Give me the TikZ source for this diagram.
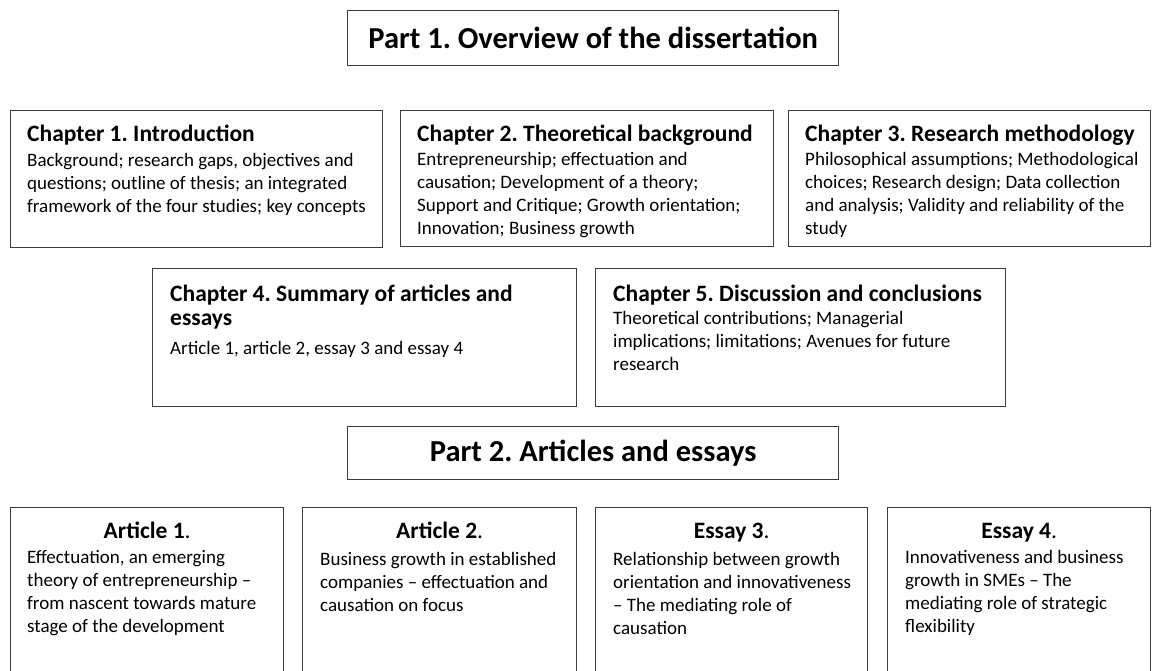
\documentclass[tikz,border=0pt]{standalone}
\usepackage{fontspec}
\setmainfont{Carlito}
\frenchspacing
\definecolor{boxline}{HTML}{3C3C3C}
\begin{document}
\frenchspacing
\begin{tikzpicture}[x=1pt,y=-1pt,
  box/.style={draw=boxline, line width=1.4pt, inner sep=0pt, anchor=north west},
  title/.style={font=\fontsize{30.5}{34}\selectfont\bfseries, inner sep=0pt},
  head/.style={font=\fontsize{23.5}{24}\selectfont\bfseries, inner sep=0pt, anchor=base west, align=left},
  % multi-line texts are placed by the baseline of their last line
  body/.style={font=\fontsize{19}{23}\selectfont, inner sep=0pt, anchor=base west, align=left},
  ahead/.style={font=\fontsize{23.5}{24}\selectfont, inner sep=0pt, anchor=base},
]
\useasboundingbox (0,0) rectangle (1152,670);
\clip (0,0) rectangle (1152,670);

% Part 1
\node[box, minimum width=491, minimum height=55] (p1) at (347,10) {};
\node[title] (p1t) at (p1.center) {Part 1. Overview of the dissertation};

% Chapters 1--3
\node[box, minimum width=372, minimum height=137] (c1) at (10,110) {};
\node[head] (c1h) at (27,141.5) {Chapter 1. Introduction};
\node[body] (c1b) at (27,212) {Background; research gaps, objectives and\\questions; outline of thesis; an integrated\\framework of the four studies; key concepts};

\node[box, minimum width=373, minimum height=136] (c2) at (400,110) {};
\node[head] (c2h) at (417,141.5) {Chapter 2. Theoretical background};
\node[body] (c2b) at (417,234) {Entrepreneurship; effectuation and\\causation; Development of a theory;\\Support and Critique; Growth orientation;\\Innovation; Business growth};

\node[box, minimum width=362, minimum height=136] (c3) at (788,110) {};
\node[head] (c3h) at (805,141.5) {Chapter 3. Research methodology};
\node[body] (c3b) at (805,234) {Philosophical assumptions; Methodological\\choices; Research design; Data collection\\and analysis; Validity and reliability of the\\study};

% Chapters 4--5
\node[box, minimum width=424, minimum height=138] (c4) at (152,268) {};
\node[head] (c4h) at (170,325) {Chapter 4. Summary of articles and\\essays};
\node[body] (c4b) at (170,354) {Article 1, article 2, essay 3 and essay 4};

\node[box, minimum width=410, minimum height=138] (c5) at (595,268) {};
\node[head] (c5h) at (613,301) {Chapter 5. Discussion and conclusions};
\node[body] (c5b) at (613,370) {Theoretical contributions; Managerial\\implications; limitations; Avenues for future\\research};

% Part 2
\node[box, minimum width=491, minimum height=53] (p2) at (347,426) {};
\node[title] (p2t) at (p2.center) {Part 2. Articles and essays};

% Articles and essays (boxes run past the lower edge)
\node[box, minimum width=273, minimum height=200] (a1) at (10,507) {};
\node[ahead] (a1h) at ([yshift=-31]a1.north) {\textbf{Article 1}.};
\node[body] (a1b) at (27,632) {Effectuation, an emerging\\theory of entrepreneurship --\\from nascent towards mature\\stage of the development};

\node[box, minimum width=274, minimum height=200] (a2) at (302,507) {};
\node[ahead] (a2h) at ([yshift=-31]a2.north) {\textbf{Article 2}.};
\node[body] (a2b) at (320,611) {Business growth in established\\companies -- effectuation and\\causation on focus};

\node[box, minimum width=272, minimum height=200] (e3) at (595,507) {};
\node[ahead] (e3h) at ([yshift=-31]e3.north) {\textbf{Essay 3}.};
\node[body] (e3b) at (613,634) {Relationship between growth\\orientation and innovativeness\\-- The mediating role of\\causation};

\node[box, minimum width=263, minimum height=200] (e4) at (887,507) {};
\node[ahead] (e4h) at ([yshift=-31]e4.north) {\textbf{Essay 4}.};
\node[body] (e4b) at (905,632) {Innovativeness and business\\growth in SMEs -- The\\mediating role of strategic\\flexibility};
\end{tikzpicture}
\end{document}
